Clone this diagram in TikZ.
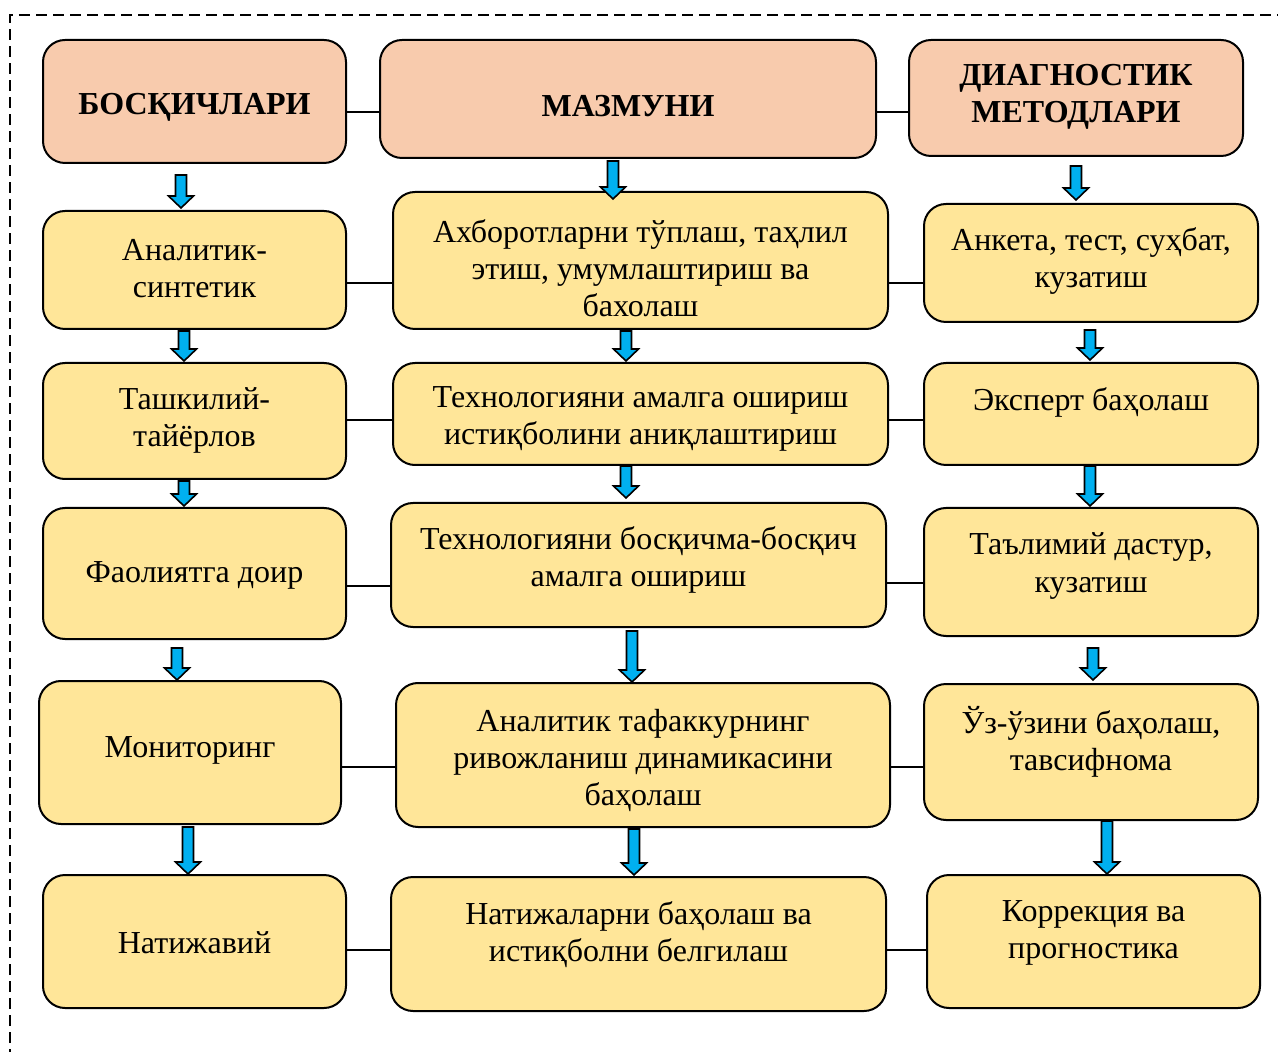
\documentclass[tikz,border=0pt]{standalone}
\usepackage{fontspec}
\setmainfont{Liberation Serif}[BoldFont={Liberation Serif Bold}]
\usetikzlibrary{calc}
\definecolor{hdrfill}{HTML}{F8CBAD}
\definecolor{cellfill}{HTML}{FFE699}
\definecolor{arrblue}{HTML}{00B0F0}
\newcommand\bx[8]{%
  \node[#1, minimum width={(#5-#3)*0.5pt}, minimum height={(#6-#4)*0.5pt}] (#2) at ({(#3+#5)/2},{(#4+#6)/2}) {};
  \node[#1txt] (#2t) at ({(#3+#5)/2},{#7+3}) {#8};}
\newcommand\barrow[5]{%
  \path (#2.south -| #1,0) coordinate (aT0) (#3.north -| #1,0) coordinate (aB0);
  \draw[barr] ([xshift=-2.75pt,yshift={-#4*0.5pt}]aT0) -- ([xshift=2.75pt,yshift={-#4*0.5pt}]aT0)
    -- ([xshift=2.75pt,yshift={#5*0.5pt+6pt}]aB0) -- ([xshift=6.25pt,yshift={#5*0.5pt+6pt}]aB0)
    -- ([yshift={#5*0.5pt}]aB0) -- ([xshift=-6.25pt,yshift={#5*0.5pt+6pt}]aB0)
    -- ([xshift=-2.75pt,yshift={#5*0.5pt+6pt}]aB0) -- cycle;}
\begin{document}
\begin{tikzpicture}[x=0.5pt,y=-0.5pt,
  cell/.style={draw=black, line width=1pt, rounded corners=11pt, fill=cellfill, inner sep=0pt},
  hdr/.style={cell, fill=hdrfill},
  celltxt/.style={align=center, inner sep=0pt, font=\fontsize{16}{18.5}\selectfont},
  hdrtxt/.style={align=center, inner sep=0pt, font=\fontsize{16}{18.5}\selectfont\bfseries},
  link/.style={draw=black, line width=0.8pt},
  barr/.style={draw=black, line width=0.8pt, fill=arrblue, line join=miter},
  frame/.style={draw=black, line width=1.4pt, dash pattern=on 5.5pt off 3pt}]
\useasboundingbox (0,0) rectangle (1278,1052);
% dashed frame
\coordinate (fTL) at (10,15);
\coordinate (fTR) at (1290,15);
\coordinate (fBL) at (10,1060);
\draw[frame] (fBL) -- (fTL) -- (fTR);
% headers
\bx{hdr}{h1}{43}{40}{346}{163}{104}{БОСҚИЧЛАРИ}
\bx{hdr}{h2}{380}{40}{876}{158}{103}{МАЗМУНИ}
\bx{hdr}{h3}{909}{40}{1243}{156}{94}{ДИАГНОСТИК\\МЕТОДЛАРИ}
% row 1
\bx{cell}{l1}{43}{211}{346}{329}{266}{Аналитик-\\синтетик}
\bx{cell}{m1}{393}{192}{888}{329}{265}{Ахборотларни тўплаш, таҳлил\\этиш, умумлаштириш ва\\бахолаш}
\bx{cell}{r1}{924}{204}{1258}{322}{258}{Анкета, тест, суҳбат,\\кузатиш}
% row 2
\bx{cell}{l2}{43}{363}{346}{479}{417}{Ташкилий-\\тайёрлов}
\bx{cell}{m2}{393}{363}{888}{465}{416}{Технологияни амалга ошириш\\истиқболини аниқлаштириш}
\bx{cell}{r2}{924}{363}{1258}{465}{399}{Эксперт баҳолаш}
% row 3
\bx{cell}{l3}{43}{508}{346}{639}{572}{Фаолиятга доир}
\bx{cell}{m3}{391}{503}{886}{627}{557}{Технологияни босқичма-босқич\\амалга ошириш}
\bx{cell}{r3}{924}{508}{1258}{636}{563}{Таълимий дастур,\\кузатиш}
% row 4
\bx{cell}{l4}{39}{681}{341}{824}{747}{Мониторинг}
\bx{cell}{m4}{396}{683}{890}{827}{757}{Аналитик тафаккурнинг\\ривожланиш динамикасини\\баҳолаш}
\bx{cell}{r4}{924}{684}{1258}{820}{739}{Ўз-ўзини баҳолаш,\\тавсифнома}
% row 5
\bx{cell}{l5}{43}{875}{346}{1008}{940}{Натижавий}
\bx{cell}{m5}{391}{877}{886}{1011}{932}{Натижаларни баҳолаш ва\\истиқболни белгилаш}
\bx{cell}{r5}{927}{875}{1260}{1008}{930}{Коррекция ва\\прогностика}
% horizontal links
\draw[link] (h1.east |- 0,112) -- (h2.west |- 0,112);
\draw[link] (h2.east |- 0,112) -- (h3.west |- 0,112);
\draw[link] (l1.east |- 0,283) -- (m1.west |- 0,283);
\draw[link] (m1.east |- 0,283) -- (r1.west |- 0,283);
\draw[link] (l2.east |- 0,420) -- (m2.west |- 0,420);
\draw[link] (m2.east |- 0,420) -- (r2.west |- 0,420);
\draw[link] (l3.east |- 0,586) -- (m3.west |- 0,586);
\draw[link] (m3.east |- 0,583) -- (r3.west |- 0,583);
\draw[link] (l4.east |- 0,767) -- (m4.west |- 0,767);
\draw[link] (m4.east |- 0,767) -- (r4.west |- 0,767);
\draw[link] (l5.east |- 0,950) -- (m5.west |- 0,950);
\draw[link] (m5.east |- 0,950) -- (r5.west |- 0,950);
% block arrows
\barrow{181}{h1}{l1}{11}{2}
\barrow{184}{l1}{l2}{1}{1}
\barrow{184}{l2}{l3}{1}{1}
\barrow{177}{l3}{l4}{8}{0}
\barrow{188}{l4}{l5}{2}{0}
\barrow{613}{h2}{m1}{2}{-8}
\barrow{626}{m1}{m2}{1}{1}
\barrow{626}{m2}{m3}{0}{4}
\barrow{632}{m3}{m4}{3}{0}
\barrow{634}{m4}{m5}{1}{1}
\barrow{1076}{h3}{r1}{9}{3}
\barrow{1090}{r1}{r2}{7}{2}
\barrow{1090}{r2}{r3}{0}{1}
\barrow{1093}{r3}{r4}{11}{3}
\barrow{1107}{r4}{r5}{0}{0}
\end{tikzpicture}
\end{document}
